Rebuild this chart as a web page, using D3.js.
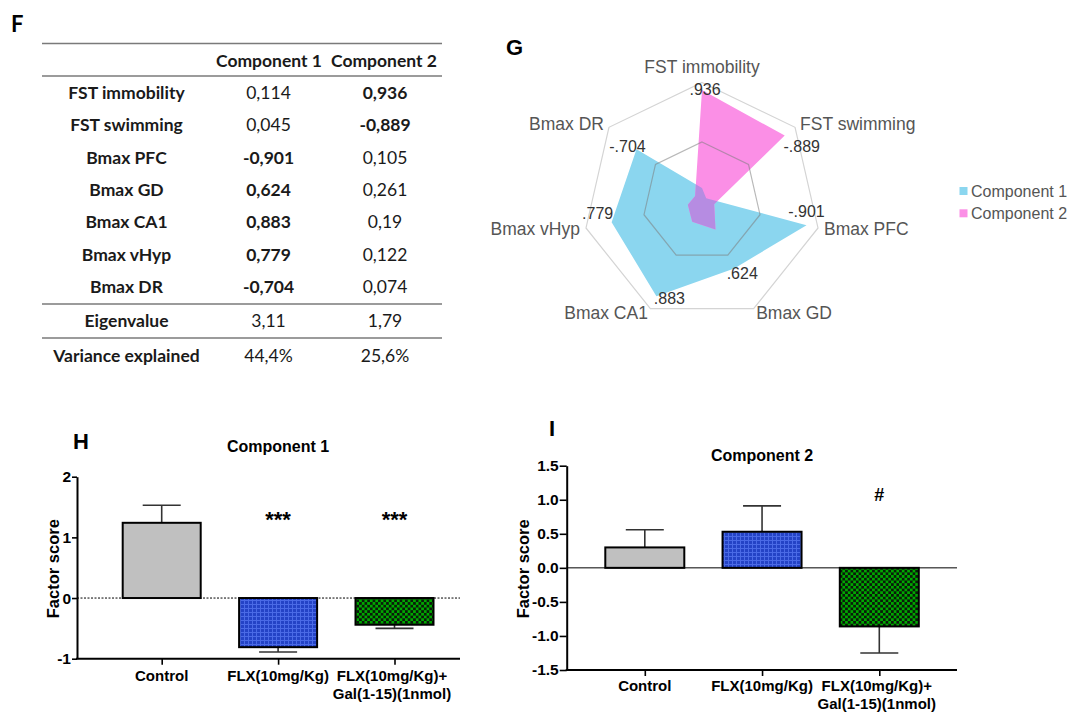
<!DOCTYPE html>
<html><head><meta charset="utf-8">
<script src="https://cdn.jsdelivr.net/npm/d3@7"></script>
<style>body{margin:0;background:#fff} svg{display:block}</style>
</head><body><svg id="c" width="1067" height="712"></svg>
<script>
// ---------- data ----------
const variables = ["FST immobility","FST swimming","Bmax PFC","Bmax GD","Bmax CA1","Bmax vHyp","Bmax DR"];
const component1 = [0.114, 0.045, -0.901, 0.624, 0.883, 0.779, -0.704];
const component2 = [0.936, -0.889, 0.105, 0.261, 0.19, 0.122, 0.074];
const componentNames = ["Component 1", "Component 2"];
const eigenvalues = [3.11, 1.79];
const varianceExplained = [44.4, 25.6];
const groups = ["Control", "FLX(10mg/Kg)", "FLX(10mg/Kg)+|Gal(1-15)(1nmol)"];
const scores1 = [1.24, -0.81, -0.44];
const sem1 = [0.29, 0.08, 0.06];
const scores2 = [0.30, 0.53, -0.86];
const sem2 = [0.26, 0.38, 0.39];
const ticks1 = [-1, 0, 1, 2];
const ticks2 = [-1.5, -1, -0.5, 0, 0.5, 1, 1.5];
const marks1 = ["", "***", "***"];
const marks2 = ["", "", "#"];
const radarRings = [0.5, 1];

// ---------- helpers ----------
const svg = d3.select("#c");
const comma = v => String(v).replace(".", ",");
const shortNum = v => String(v).replace(/^(-?)0\./, "$1.");
const hyph = s => s.replace("\u2212", "-");
const TBL = "Lato, 'Open Sans', sans-serif";
const ARIAL = "'Liberation Sans', Arial, sans-serif";

// panel letters
[["F", 11, 32, TBL], ["G", 506, 55, ARIAL], ["H", 73, 449, ARIAL], ["I", 549, 436, ARIAL]].forEach(([t, x, y, f]) =>
  svg.append("text").attr("x", x).attr("y", y).attr("font-family", f).attr("font-weight", "bold")
     .attr("font-size", 22).attr("fill", "#000").text(t));

// ---------- table F ----------
(function table() {
  const g = svg.append("g").attr("font-family", TBL).attr("font-size", 17.5).attr("fill", "#1a1a1a");
  const colX = [126.5, 268.5, 385];
  const rowY = d3.scalePoint().domain(d3.range(variables.length)).range([93, 287]);
  const rule = (y) => g.append("line").attr("x1", 42).attr("x2", 442).attr("y1", y).attr("y2", y)
                      .attr("stroke", "#7a7a7a").attr("stroke-width", 1.6);
  [43.5, 76, 304, 338].forEach(rule);
  const txt = (x, y, s, bold) => g.append("text").attr("x", x).attr("y", y + 6).attr("text-anchor", "middle")
                       .attr("font-weight", bold ? "bold" : "normal").text(s);
  componentNames.forEach((c, j) => txt(colX[j + 1] + (j === 0 ? 0.5 : -1), 61, c, true));
  variables.forEach((v, i) => {
    const y = rowY(i);
    const dom = Math.abs(component1[i]) > Math.abs(component2[i]) ? 0 : 1;
    txt(colX[0], y, v, true);
    txt(colX[1], y, comma(component1[i]), dom === 0);
    txt(colX[2], y, comma(component2[i]), dom === 1);
  });
  txt(colX[0], 321, "Eigenvalue", true);
  eigenvalues.forEach((e, j) => txt(colX[j + 1], 321, comma(e), false));
  txt(colX[0], 356, "Variance explained", true);
  varianceExplained.forEach((e, j) => txt(colX[j + 1], 356, comma(e) + "%", false));
})();

// ---------- radar G ----------
(function radar() {
  const cx = 702, cy = 201.5;
  const n = variables.length;
  const r = d3.scaleLinear().domain([0, 1]).range([0, 119]);
  const ang = i => i * 2 * Math.PI / n;
  const pt = (i, v) => [r(v) * Math.sin(ang(i)), -r(v) * Math.cos(ang(i))];
  const g = svg.append("g").attr("transform", `translate(${cx},${cy})`);
  const line = d3.lineRadial().angle((d, i) => ang(i)).radius(d => r(d)).curve(d3.curveLinearClosed);
  const abs1 = component1.map(Math.abs), abs2 = component2.map(Math.abs);

  const defs = svg.append("defs");
  defs.append("clipPath").attr("id", "clipC1").append("path").attr("d", line(abs1));
  g.append("path").attr("d", line(abs1)).attr("fill", "#8bd6ef");
  g.append("path").attr("d", line(abs2)).attr("fill", "#fb8fe6");
  g.append("path").attr("d", line(abs2)).attr("fill", "#b68ce2").attr("clip-path", "url(#clipC1)");

  radarRings.forEach((rv, k) => g.append("path").attr("d", line(variables.map(() => rv)))
     .attr("fill", "none").attr("stroke", k === 0 ? "#7d7d7d" : "#d4d4d4")
     .attr("stroke-opacity", k === 0 ? 0.55 : 1).attr("stroke-width", 1.2));

  // axis labels
  const lab = g.append("g").attr("font-family", ARIAL).attr("font-size", 17.5).attr("fill", "#555");
  variables.forEach((v, i) => {
    const [x, y] = pt(i, 1);
    const s = Math.sin(ang(i));
    let anchor = Math.abs(s) < 0.01 ? "middle" : (s > 0 ? "start" : "end");
    let dx = anchor === "middle" ? 0 : (Math.abs(s) > 0.9 ? 6 : (y > 60 ? 2.5 : 5)) * Math.sign(s);
    let dy = anchor === "middle" ? -16 : (y > 60 ? 4.5 : -3);
    if (Math.abs(s) > 0.9) dy = 1;
    lab.append("text").attr("x", x + dx).attr("y", y + dy + 6).attr("text-anchor", anchor).text(v);
  });

  // value labels (dominant loading per variable)
  const valOffset = [[3, -1], [17, 11], [0, -14], [8, 5], [13, 2], [-14, -9], [-9, -3]];
  const vl = g.append("g").attr("font-family", ARIAL).attr("font-size", 16).attr("fill", "#333").attr("text-anchor", "middle");
  variables.forEach((v, i) => {
    const dom = Math.abs(component1[i]) > Math.abs(component2[i]) ? component1[i] : component2[i];
    const [x, y] = pt(i, Math.abs(dom));
    vl.append("text").attr("x", x + valOffset[i][0]).attr("y", y + valOffset[i][1] + 5.5).text(shortNum(dom));
  });

  // legend
  const lg = svg.append("g").attr("font-family", ARIAL).attr("font-size", 16).attr("fill", "#555");
  ["#8bd6ef", "#fb8fe6"].forEach((c, k) => {
    const y = 191 + k * 22.3;
    lg.append("rect").attr("x", 959.5).attr("y", y - 4).attr("width", 8).attr("height", 8).attr("fill", c);
    lg.append("text").attr("x", 971).attr("y", y + 5.5).text(componentNames[k]);
  });
})();

// ---------- bar charts ----------
const defs2 = svg.append("defs");
const pb = defs2.append("pattern").attr("id", "blueGrid").attr("patternUnits", "userSpaceOnUse").attr("width", 4).attr("height", 4);
pb.append("rect").attr("width", 4).attr("height", 4).attr("fill", "#2443c6");
pb.append("path").attr("d", "M0,0.5H4M0.5,0V4").attr("stroke", "#4a6ae6").attr("stroke-width", 1);
const pg = defs2.append("pattern").attr("id", "greenCheck").attr("patternUnits", "userSpaceOnUse").attr("width", 5.4).attr("height", 5.4);
pg.append("rect").attr("width", 5.4).attr("height", 5.4).attr("fill", "#00a800");
pg.append("rect").attr("width", 2.7).attr("height", 2.7).attr("fill", "#0a1a0a");
pg.append("rect").attr("x", 2.7).attr("y", 2.7).attr("width", 2.7).attr("height", 2.7).attr("fill", "#0a1a0a");
const barFills = ["#c0c0c0", "url(#blueGrid)", "url(#greenCheck)"];

function barChart(o) {
  const g = svg.append("g").attr("font-family", ARIAL).attr("font-weight", "bold");
  const y = d3.scaleLinear().domain(o.domain).range(o.yRange);
  const x = d3.scalePoint().domain(groups).range(o.xRange);
  const bw = o.barW;

  // title
  g.append("text").attr("x", x(groups[1])).attr("y", o.titleY).attr("text-anchor", "middle")
   .attr("font-size", 16).text(o.title);
  // y label
  g.append("text").attr("transform", `translate(${o.ylabX},${(y.range()[0] + y.range()[1]) / 2 + 1}) rotate(-90)`)
   .attr("text-anchor", "middle").attr("font-size", 16.5).text("Factor score");

  // zero line
  g.append("line").attr("x1", o.axisX).attr("x2", o.xEnd).attr("y1", y(0)).attr("y2", y(0))
   .attr("stroke", "#000").attr("stroke-width", 1).attr("stroke-dasharray", o.dashed ? "2,1.5" : null);

  // error bars
  groups.forEach((gname, i) => {
    const v = o.values[i], e = o.errs[i];
    const tip = v >= 0 ? v + e : v - e;
    g.append("line").attr("x1", x(gname)).attr("x2", x(gname)).attr("y1", y(v)).attr("y2", y(tip))
     .attr("stroke", "#333").attr("stroke-width", 1.6);
    g.append("line").attr("x1", x(gname) - 19).attr("x2", x(gname) + 19).attr("y1", y(tip)).attr("y2", y(tip))
     .attr("stroke", "#333").attr("stroke-width", 1.6);
  });
  // bars
  g.selectAll("rect.bar").data(o.values).join("rect").attr("class", "bar")
   .attr("x", (d, i) => x(groups[i]) - bw / 2).attr("width", bw)
   .attr("y", d => y(Math.max(0, d))).attr("height", d => Math.abs(y(d) - y(0)))
   .attr("fill", (d, i) => barFills[i]).attr("stroke", "#000").attr("stroke-width", 2);

  // significance marks
  o.marks.forEach((m, i) => { if (m) g.append("text").attr("x", x(groups[i])).attr("y", o.markY)
     .attr("text-anchor", "middle").attr("font-size", o.markSize).text(m); });

  // y axis
  const ya = g.append("g").attr("transform", `translate(${o.axisX},0)`)
    .call(d3.axisLeft(y).tickValues(o.ticks).tickSize(o.tickLen).tickSizeOuter(0).tickPadding(1).tickFormat(d => hyph(o.fmt(d))));
  ya.select(".domain").attr("stroke-width", 2);
  ya.selectAll(".tick line").attr("stroke-width", 1.6);
  ya.selectAll(".tick text").attr("font-size", 15.5).attr("font-weight", "bold").attr("fill", "#000").attr("font-family", ARIAL);

  // x axis
  const yb = y(o.domain[0]);
  g.append("line").attr("x1", o.axisX - 1).attr("x2", o.xEnd).attr("y1", yb).attr("y2", yb).attr("stroke", "#000").attr("stroke-width", 2);
  const xa = g.append("g").attr("transform", `translate(0,${yb})`)
    .call(d3.axisBottom(x).tickSize(6).tickSizeOuter(0).tickFormat(""));
  xa.select(".domain").remove();
  xa.selectAll(".tick line").attr("stroke-width", 1.6);

  groups.forEach(gname => {
    gname.split("|").forEach((ln, k) => g.append("text").attr("x", x(gname) - (gname.includes("|") ? 2.5 : 0))
      .attr("y", o.labY + k * 17.8).attr("text-anchor", "middle").attr("font-size", 15).text(ln));
  });
}

barChart({ title: "Component 1", values: scores1, errs: sem1, marks: marks1, ticks: ticks1,
  domain: [-1, 2], yRange: [658.7, 476.7], xRange: [161.7, 394.5], barW: 78, axisX: 77, xEnd: 460,
  dashed: true, fmt: d3.format("d"), tickLen: 5, titleY: 451.5, ylabX: 58.5, labY: 680.8, markY: 527, markSize: 22 });

barChart({ title: "Component 2", values: scores2, errs: sem2, marks: marks2, ticks: ticks2,
  domain: [-1.5, 1.5], yRange: [670, 465.7], xRange: [644.8, 879.3], barW: 79, axisX: 566.7, xEnd: 957,
  dashed: false, fmt: d3.format(".1f"), tickLen: 7, titleY: 460.8, ylabX: 528.5, labY: 691, markY: 501, markSize: 18 });
</script></body></html>
